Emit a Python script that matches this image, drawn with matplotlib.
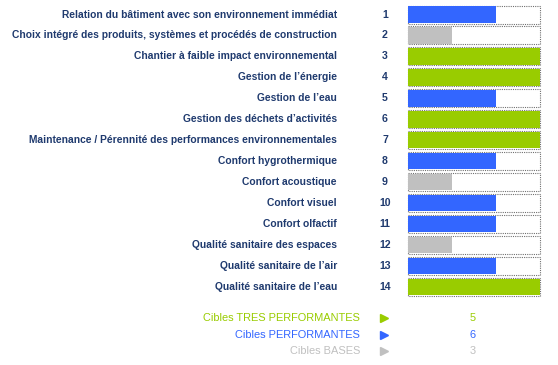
import matplotlib.pyplot as plt

# données
cibles = [
    "Relation du bâtiment avec son environnement immédiat",
    "Choix intégré des produits, systèmes et procédés de construction",
    "Chantier à faible impact environnemental",
    "Gestion de l’énergie",
    "Gestion de l’eau",
    "Gestion des déchets d’activités",
    "Maintenance / Pérennité des performances environnementales",
    "Confort hygrothermique",
    "Confort acoustique",
    "Confort visuel",
    "Confort olfactif",
    "Qualité sanitaire des espaces",
    "Qualité sanitaire de l’air",
    "Qualité sanitaire de l’eau",
]
numeros = list(range(1, 15))
# 1 = base, 2 = performant, 3 = très performant
niveaux = [2, 1, 3, 3, 2, 3, 3, 2, 1, 2, 2, 1, 2, 3]

legende = ["Cibles TRES PERFORMANTES", "Cibles PERFORMANTES", "Cibles BASES"]
legende_niv = [3, 2, 1]

couleurs = {3: "#99CC00", 2: "#3366FF", 1: "#C0C0C0"}
texte = "#1F3A6E"

fig = plt.figure(figsize=(5.58, 3.65), dpi=100)
ax = fig.add_axes([0, 0, 1, 1])
ax.set_xlim(0, 558)
ax.set_ylim(365, 0)
ax.axis("off")

y0, dy = 14.5, 20.95
x0, unite = 407.5, 44.1
ys = [y0 + i * dy for i in range(len(cibles))]

# cadres pointillés
ax.barh(ys, [3 * unite] * len(ys), left=x0, height=18, color="none",
        edgecolor="#707070", linestyle=(0, (1, 1)), linewidth=0.8)
# barres
ax.barh(ys, [n * unite for n in niveaux], left=x0 + 0.5, height=16.5,
        color=[couleurs[n] for n in niveaux], linewidth=0)

for y, lab, num in zip(ys, cibles, numeros):
    ax.text(337, y, lab, ha="right", va="center", fontsize=7.4,
            fontweight="bold", color=texte, family="Liberation Sans")
    ax.text(385, y, str(num), ha="center", va="center", fontsize=7.6,
            fontweight="bold", color=texte, family="Liberation Sans")

# légende
ly = [318, 334.5, 351]
for y, lab, n in zip(ly, legende, legende_niv):
    c = couleurs[n]
    ax.text(360, y, lab, ha="right", va="center", fontsize=7.9,
            color=c, family="Liberation Sans")
    ax.plot([384], [y], marker=">", color=c, markersize=6, linestyle="none")
    ax.text(473, y, str(niveaux.count(n)), ha="center", va="center",
            fontsize=7.9, color=c, family="Liberation Sans")

fig.savefig("out.png", dpi=100)
